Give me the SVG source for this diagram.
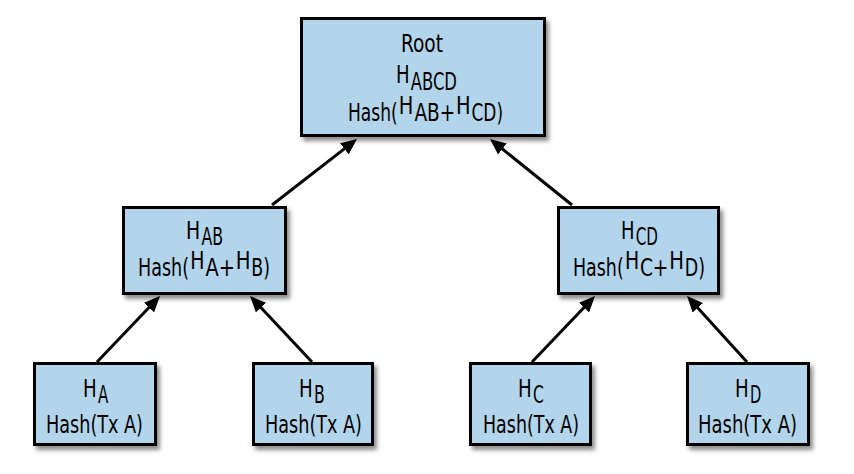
<svg xmlns="http://www.w3.org/2000/svg" width="854" height="474" viewBox="0 0 854 474">
<style>
.box{fill:#B3D5EB;stroke:#000;stroke-width:3;filter:url(#sh)}
.t{font-family:"DejaVu Sans Condensed","DejaVu Sans",sans-serif;font-stretch:condensed;font-size:25px;fill:#000}
.c{stroke:#000;stroke-width:3;fill:none;marker-end:url(#ah)}
</style>
<defs>
<filter id="sh" x="-10%" y="-10%" width="130%" height="140%">
<feDropShadow dx="3" dy="4" stdDeviation="2" flood-color="#000" flood-opacity="0.45"/>
</filter>
<marker id="ah" viewBox="0 0 16 14" refX="8" refY="7" markerWidth="16" markerHeight="14" markerUnits="userSpaceOnUse" orient="auto">
<path d="M0,0 L16,7 L0,14 z" fill="#000"/>
</marker>
</defs>
<g id="connectors">
<line class="c" x1="272" y1="205" x2="350.7" y2="143.9"/>
<line class="c" x1="572" y1="205" x2="496.2" y2="144"/>
<line class="c" x1="97" y1="362" x2="154.5" y2="301.8"/>
<line class="c" x1="312" y1="362" x2="255.5" y2="301.8"/>
<line class="c" x1="532" y1="362" x2="589.5" y2="301.8"/>
<line class="c" x1="747" y1="362" x2="692.4" y2="301.9"/>
</g>
<g id="root">
<rect class="box" x="301.5" y="18.5" width="243" height="117"/>
<text class="t" x="401" y="52" textLength="42" lengthAdjust="spacingAndGlyphs">Root</text>
<text class="t" x="396" y="83" textLength="13.6" lengthAdjust="spacingAndGlyphs">H</text>
<text class="t" x="410.8" y="90" textLength="46.2" lengthAdjust="spacingAndGlyphs">ABCD</text>
<text class="t" x="348" y="121" textLength="49.8" lengthAdjust="spacingAndGlyphs">Hash(</text>
<text class="t" x="398.8" y="114" textLength="14.6" lengthAdjust="spacingAndGlyphs">H</text>
<text class="t" x="414.4" y="121" textLength="40.9" lengthAdjust="spacingAndGlyphs">AB+</text>
<text class="t" x="456.1" y="114" textLength="14.6" lengthAdjust="spacingAndGlyphs">H</text>
<text class="t" x="471.5" y="121" textLength="31.6" lengthAdjust="spacingAndGlyphs">CD)</text>
</g>
<g id="hab">
<rect class="box" x="123.5" y="207.5" width="162" height="86"/>
<text class="t" x="186" y="239" textLength="14.2" lengthAdjust="spacingAndGlyphs">H</text>
<text class="t" x="201.4" y="245" textLength="21.6" lengthAdjust="spacingAndGlyphs">AB</text>
<text class="t" x="138" y="276" textLength="51.1" lengthAdjust="spacingAndGlyphs">Hash(</text>
<text class="t" x="190.3" y="269" textLength="14.3" lengthAdjust="spacingAndGlyphs">H</text>
<text class="t" x="205.4" y="276" textLength="29.5" lengthAdjust="spacingAndGlyphs">A+</text>
<text class="t" x="235.7" y="269" textLength="14.8" lengthAdjust="spacingAndGlyphs">H</text>
<text class="t" x="251.3" y="276" textLength="18.7" lengthAdjust="spacingAndGlyphs">B)</text>
</g>
<g id="hcd">
<rect class="box" x="558.5" y="207.5" width="160" height="86"/>
<text class="t" x="621" y="239" textLength="13.5" lengthAdjust="spacingAndGlyphs">H</text>
<text class="t" x="635.7" y="245" textLength="22.3" lengthAdjust="spacingAndGlyphs">CD</text>
<text class="t" x="573" y="276" textLength="50.7" lengthAdjust="spacingAndGlyphs">Hash(</text>
<text class="t" x="624.9" y="269" textLength="14.2" lengthAdjust="spacingAndGlyphs">H</text>
<text class="t" x="639.9" y="276" textLength="28.5" lengthAdjust="spacingAndGlyphs">C+</text>
<text class="t" x="669.2" y="269" textLength="14.7" lengthAdjust="spacingAndGlyphs">H</text>
<text class="t" x="684.7" y="276" textLength="20.3" lengthAdjust="spacingAndGlyphs">D)</text>
</g>
<g id="ha">
<rect class="box" x="34.5" y="363.5" width="121" height="81"/>
<text class="t" x="83" y="397" textLength="13.7" lengthAdjust="spacingAndGlyphs">H</text>
<text class="t" x="97.9" y="403" textLength="10.3" lengthAdjust="spacingAndGlyphs">A</text>
<text class="t" x="46" y="433" textLength="97" lengthAdjust="spacingAndGlyphs">Hash(Tx A)</text>
</g>
<g id="hb">
<rect class="box" x="253.5" y="363.5" width="119" height="81"/>
<text class="t" x="299" y="397" textLength="13.7" lengthAdjust="spacingAndGlyphs">H</text>
<text class="t" x="313.9" y="403" textLength="10.8" lengthAdjust="spacingAndGlyphs">B</text>
<text class="t" x="265" y="433" textLength="97" lengthAdjust="spacingAndGlyphs">Hash(Tx A)</text>
</g>
<g id="hc">
<rect class="box" x="470.5" y="363.5" width="120" height="81"/>
<text class="t" x="518" y="397" textLength="13.7" lengthAdjust="spacingAndGlyphs">H</text>
<text class="t" x="532.9" y="403" textLength="10.8" lengthAdjust="spacingAndGlyphs">C</text>
<text class="t" x="483" y="433" textLength="96" lengthAdjust="spacingAndGlyphs">Hash(Tx A)</text>
</g>
<g id="hd">
<rect class="box" x="687.5" y="363.5" width="121" height="81"/>
<text class="t" x="735" y="397" textLength="13.7" lengthAdjust="spacingAndGlyphs">H</text>
<text class="t" x="749.9" y="403" textLength="11.3" lengthAdjust="spacingAndGlyphs">D</text>
<text class="t" x="698" y="433" textLength="99" lengthAdjust="spacingAndGlyphs">Hash(Tx A)</text>
</g>
</svg>
